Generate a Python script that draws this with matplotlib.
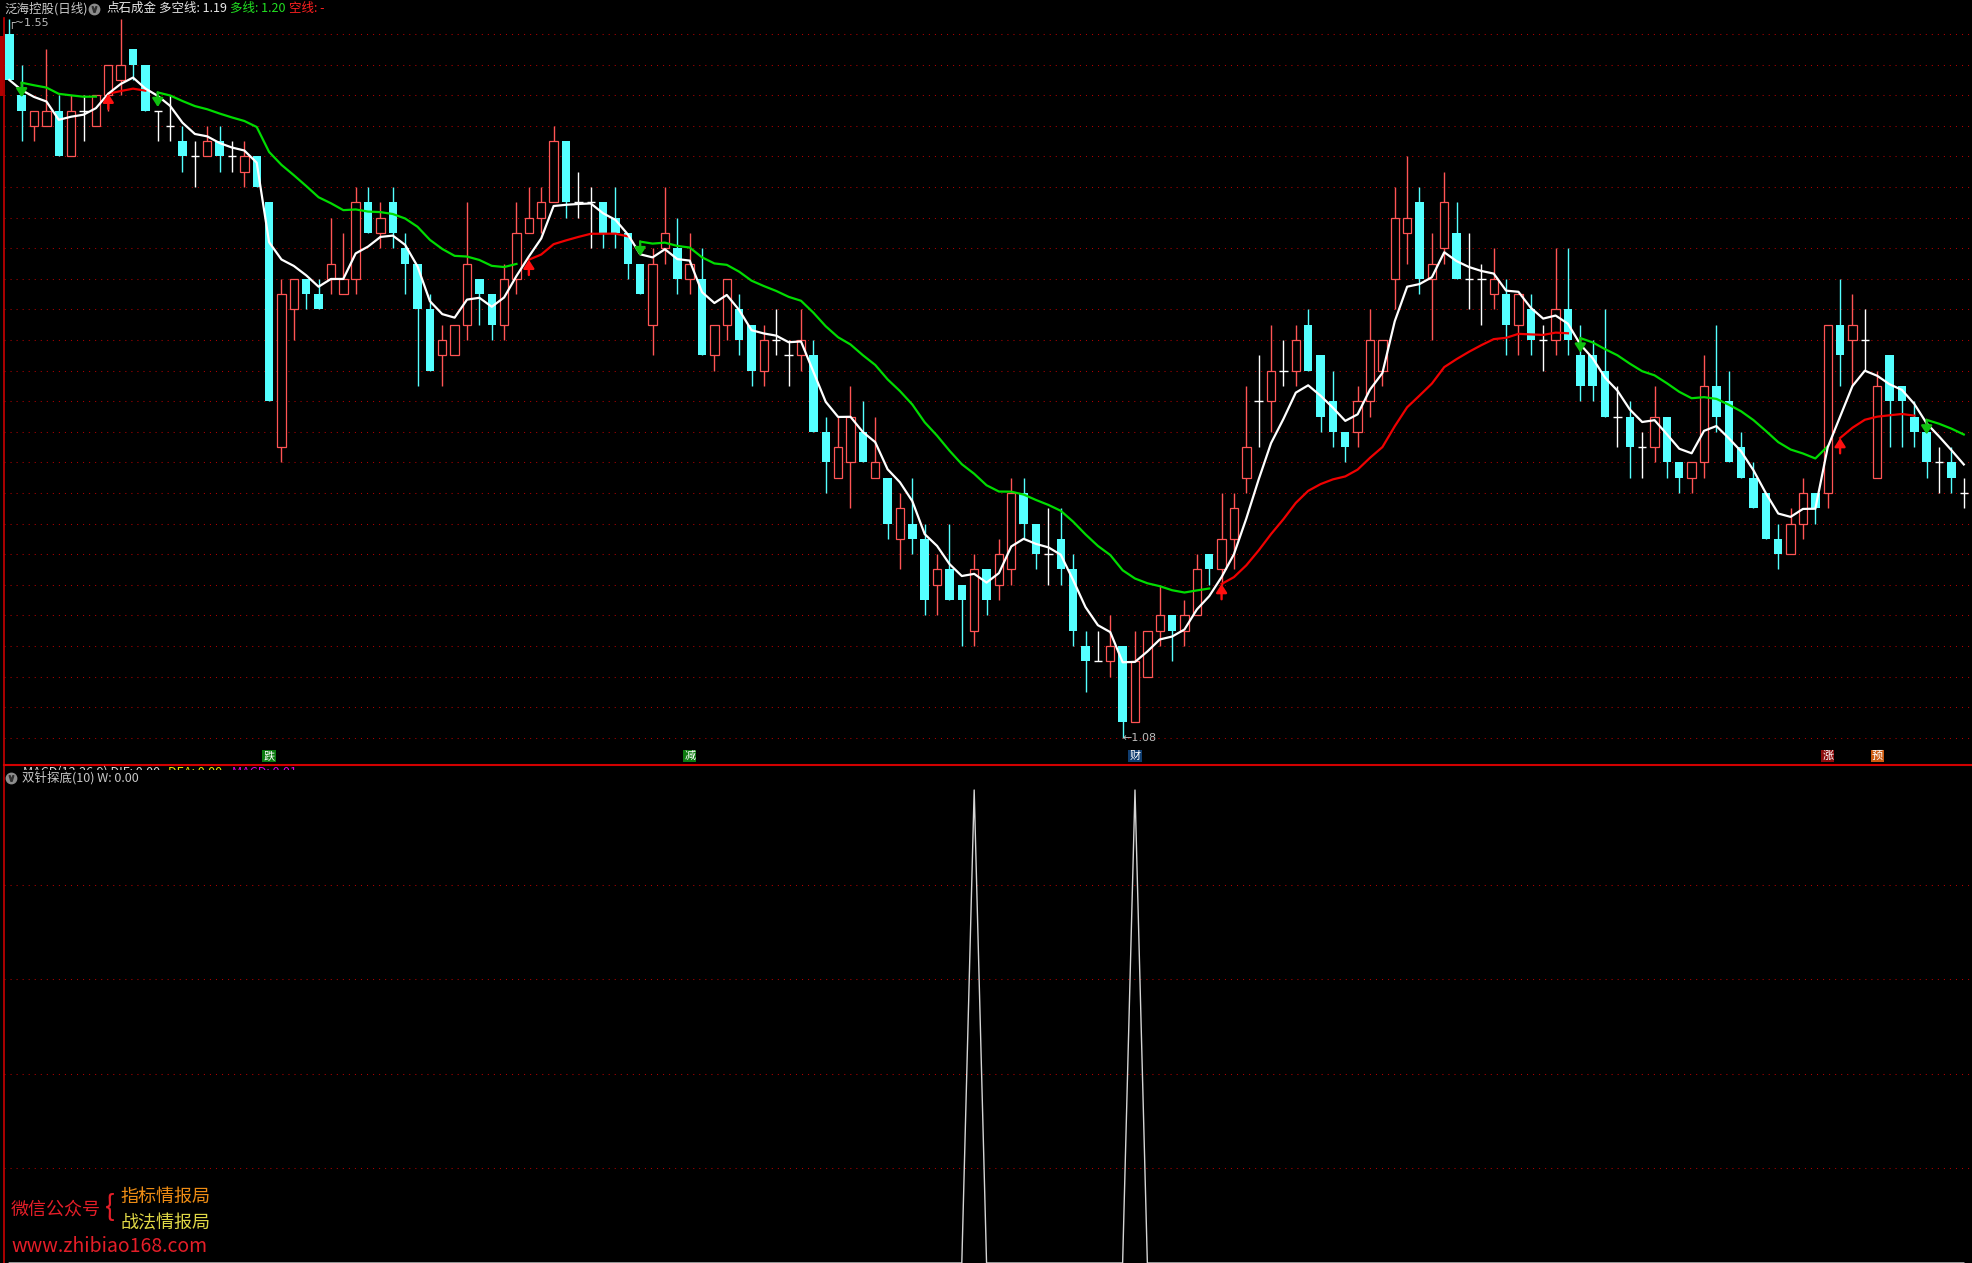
import numpy as np
import pandas as pd
import matplotlib
matplotlib.use('Agg')
import matplotlib.pyplot as plt
from matplotlib.lines import Line2D
from matplotlib.patches import Rectangle
from matplotlib.transforms import offset_copy, blended_transform_factory

plt.rcParams['font.family'] = ['Noto Sans CJK SC', 'DejaVu Sans']

# 日K数据, 单位: 分
open_c = [154, 150, 148, 148, 149, 146, 149, 148, 150, 151,
          153, 152, 149, 148, 147, 146, 146, 147, 146, 145,
          146, 143, 127, 136, 138, 137, 138, 137, 138, 143,
          141, 143, 140, 139, 136, 133, 133, 135, 138, 137,
          135, 138, 141, 142, 143, 147, 143, 143, 143, 142,
          141, 139, 135, 140, 140, 138, 138, 133, 135, 136,
          135, 132, 134, 133, 133, 133, 128, 125, 126, 128,
          125, 125, 121, 122, 121, 118, 119, 118, 115, 119,
          118, 119, 124, 122, 120, 121, 119, 114, 113, 113,
          114, 109, 112, 115, 116, 115, 116, 120, 119, 121,
          125, 130, 130, 132, 132, 135, 133, 130, 128, 128,
          130, 132, 138, 141, 143, 138, 140, 141, 138, 138,
          137, 137, 135, 136, 134, 134, 136, 133, 133, 132,
          129, 129, 127, 127, 129, 126, 125, 126, 131, 130,
          127, 125, 124, 121, 120, 122, 124, 124, 135, 134,
          134, 125, 133, 131, 129, 128, 126, 126, 124]
close_c = [151, 149, 149, 149, 146, 149, 149, 150, 152, 152,
           152, 149, 149, 148, 146, 146, 147, 146, 146, 146,
           144, 130, 137, 138, 137, 136, 139, 138, 143, 141,
           142, 141, 139, 136, 132, 134, 135, 139, 137, 135,
           138, 141, 142, 143, 147, 143, 143, 143, 141, 141,
           139, 137, 139, 141, 138, 139, 133, 135, 138, 134,
           132, 134, 134, 133, 134, 128, 126, 127, 129, 126,
           126, 122, 123, 121, 117, 119, 117, 117, 119, 117,
           120, 124, 122, 120, 120, 119, 115, 113, 113, 114,
           109, 113, 115, 116, 115, 116, 119, 119, 121, 123,
           127, 130, 132, 132, 134, 132, 129, 128, 127, 130,
           134, 134, 142, 142, 138, 139, 143, 138, 138, 138,
           138, 135, 137, 134, 134, 136, 134, 131, 131, 129,
           129, 127, 127, 129, 126, 125, 126, 131, 129, 126,
           125, 123, 121, 120, 122, 124, 123, 135, 133, 135,
           134, 131, 130, 130, 128, 126, 126, 125, 124]
high_c = [155, 152, 149, 153, 150, 150, 150, 150, 152, 155,
          153, 152, 149, 150, 148, 147, 148, 148, 147, 147,
          146, 143, 138, 138, 138, 138, 142, 141, 144, 144,
          143, 144, 141, 139, 137, 135, 135, 143, 138, 137,
          139, 143, 144, 144, 148, 147, 145, 144, 143, 144,
          141, 139, 140, 144, 142, 141, 140, 135, 138, 137,
          135, 135, 136, 134, 136, 134, 129, 129, 131, 130,
          129, 125, 124, 125, 122, 120, 122, 118, 120, 119,
          121, 125, 125, 122, 123, 123, 120, 115, 115, 116,
          114, 115, 115, 118, 116, 117, 120, 120, 124, 124,
          131, 133, 135, 134, 135, 136, 133, 132, 128, 131,
          136, 134, 144, 146, 144, 141, 145, 143, 141, 139,
          140, 138, 137, 137, 135, 140, 140, 135, 134, 136,
          131, 130, 128, 131, 129, 126, 126, 133, 135, 132,
          128, 126, 124, 122, 123, 125, 124, 135, 138, 137,
          136, 132, 133, 131, 130, 128, 127, 127, 125]
low_c = [151, 147, 147, 148, 146, 146, 147, 148, 149, 150,
         151, 149, 147, 147, 145, 144, 146, 145, 145, 144,
         144, 130, 126, 134, 136, 136, 137, 137, 137, 141,
         140, 140, 137, 131, 132, 131, 133, 134, 135, 134,
         134, 137, 141, 141, 143, 142, 142, 140, 140, 140,
         138, 137, 133, 139, 137, 137, 133, 132, 134, 133,
         131, 131, 133, 131, 132, 128, 124, 125, 123, 126,
         125, 121, 119, 120, 116, 116, 117, 114, 114, 116,
         117, 118, 121, 119, 118, 118, 114, 111, 113, 112,
         108, 109, 112, 114, 113, 114, 116, 118, 118, 119,
         124, 127, 128, 131, 131, 132, 128, 127, 126, 127,
         129, 131, 136, 139, 137, 134, 139, 138, 136, 135,
         136, 133, 133, 133, 132, 133, 133, 130, 130, 129,
         127, 125, 125, 126, 125, 124, 124, 125, 128, 126,
         125, 123, 121, 119, 120, 121, 122, 123, 131, 131,
         132, 125, 127, 127, 127, 125, 124, 124, 123]

# 双针探底 出现信号的K线
w_bars = [78, 91]

# 主图底部的文字标记
mark_bars = [21, 55, 91, 147, 151]
mark_text = ['跌', '减', '财', '涨', '预']
mark_bg = ['#0c7a10', '#0c7a10', '#0f3d70', '#8c0c0c', '#cc5a10']

# 标题栏
title_parts = ['泛海控股(日线)', '点石成金', '多空线: 1.19', '多线: 1.20', '空线: -']
sub_title = '双针探底(10) W: 0.00'
macd_parts = ['MACD(12,26,9) DIF: 0.00', 'DEA: 0.00', 'MACD: 0.01']

o = np.array(open_c) / 100
c = np.array(close_c) / 100
h = np.array(high_c) / 100
l = np.array(low_c) / 100
n = len(c)
x = np.arange(n)

# 多空线(白) 与 慢线(绿/红)
fast = pd.Series(c).ewm(span=5, adjust=False).mean().values
slow = pd.Series(c).ewm(span=21, adjust=False).mean().values
up_state = fast >= slow

w = np.zeros(n)
w[w_bars] = 1

FW, FH = 1972, 1263
CYAN = '#54ffff'
RED = '#ff5454'
GRID = '#b00000'


def fpos(px, py):
    return px / FW, 1 - py / FH


fig = plt.figure(figsize=(FW / 100, FH / 100), dpi=100, facecolor='black')

ax = fig.add_axes([4 / FW, 1 - 765 / FH, 1968 / FW, (765 - 18) / FH])
ax2 = fig.add_axes([4 / FW, 0, 1968 / FW, (1263 - 765) / FH])

xlim = (-0.43, -0.43 + 1968 / 12.37)
for a in (ax, ax2):
    a.set_facecolor('black')
    a.set_xlim(*xlim)
    a.tick_params(length=0, labelleft=False, labelbottom=False)
    a.set_xticks([])
    for s in ('top', 'right', 'bottom'):
        a.spines[s].set_visible(False)
    a.spines['left'].set_color('#c80000')
    a.spines['left'].set_linewidth(1.2)
    a.grid(axis='y', color=GRID, linestyle=(0, (1, 4.8)), linewidth=0.75)
    a.set_axisbelow(True)

ax2.spines['top'].set_visible(True)
ax2.spines['top'].set_color('#d20000')
ax2.spines['top'].set_linewidth(1.5)

# 主图
ax.set_ylim(1.0622, 1.5505)
ax.set_yticks(np.arange(1.08, 1.545, 0.02))

up = c > o
dn = c < o
dj = c == o
wick_col = np.where(up, RED, np.where(dn, CYAN, 'white'))
ax.vlines(x, l, h, colors=wick_col, linewidth=1, zorder=2)
ax.bar(x[up], (c - o)[up], bottom=o[up], width=0.68, facecolor='black',
       edgecolor=RED, linewidth=0.9, zorder=3)
ax.bar(x[dn], (o - c)[dn], bottom=c[dn], width=0.68, color=CYAN,
       linewidth=0, zorder=3)
ax.hlines(c[dj], x[dj] - 0.34, x[dj] + 0.34, colors='white', linewidth=1, zorder=3)

ax.plot(x, fast, color='white', linewidth=1.6, zorder=5)

# 慢线按多空状态分段
arrow_style = '-|>,head_length=0.5,head_width=0.32'
start = 0
for i in range(1, n + 1):
    if i == n or up_state[i] != up_state[start]:
        seg = slice(start, i)
        col = '#f00000' if up_state[start] else '#00dc00'
        ax.plot(x[seg], slow[seg], color=col, linewidth=1.6, zorder=4)
        if start > 0:
            if up_state[start]:
                ax.annotate('', xy=(start, slow[start]), xytext=(0, -11),
                            textcoords='offset points',
                            arrowprops=dict(arrowstyle=arrow_style,
                                            color='#ff1010', lw=1.7,
                                            shrinkA=0, shrinkB=0), zorder=6)
            else:
                tr = offset_copy(ax.transData, fig=fig, x=0, y=-10.5, units='points')
                ax.annotate('', xy=(start, slow[start]), xycoords=tr,
                            xytext=(start, slow[start]), textcoords='data',
                            arrowprops=dict(arrowstyle=arrow_style,
                                            color='#10c010', lw=1.7,
                                            shrinkA=0, shrinkB=0), zorder=6)
        start = i

# 最高/最低价标注
imax = int(np.argmax(h))
imin = int(np.argmin(l))
ax.annotate('┌~' + f'{h[imax]:.2f}', xy=(imax, h[imax]), xytext=(-1, -3.5),
            textcoords='offset points', ha='left', va='center',
            color='#bcbcbc', fontsize=8, family=['DejaVu Sans'], zorder=7,
            annotation_clip=False)
ax.annotate('←' + f'{l[imin]:.2f}', xy=(imin, l[imin]), xytext=(0, 0),
            textcoords='offset points', ha='left', va='center',
            color='#bcbcbc', fontsize=8, family=['DejaVu Sans'], zorder=7)

# 底部文字标记
btr = blended_transform_factory(ax.transData, ax.transAxes)
for k, t, bg in zip(mark_bars, mark_text, mark_bg):
    ax.text(k, 0.012, t, transform=btr, ha='center', va='center',
            color='white', fontsize=8,
            bbox=dict(boxstyle='square,pad=0.1', facecolor=bg, edgecolor='none'),
            zorder=7)

# 副图 双针探底
ax2.set_ylim(0, 498 / 473)
ax2.set_yticks([0.2, 0.4, 0.6, 0.8])
ax2.plot(x, w, color='#d4d4d4', linewidth=1, zorder=3)

# 左侧价格标记块
fig.patches.append(Rectangle(fpos(0, 96), 3 / FW, 60 / FH, transform=fig.transFigure,
                             facecolor='#b00000', edgecolor='none', zorder=5))

# 标题栏
hy = fpos(0, 8.5)[1]
fig.text(*fpos(4, 8.5), title_parts[0], color='#c8c8c8', fontsize=9, va='center')
fig.add_artist(Line2D([94 / FW], [hy], marker='o', markersize=7.5,
                      color='#8c8c8c', transform=fig.transFigure))
fig.add_artist(Line2D([94 / FW], [hy - 0.5 / FH], marker=r'$\vee$', markersize=4,
                      color='#303030', transform=fig.transFigure))
fig.text(*fpos(106, 8.5), title_parts[1], color='#e6e6e6', fontsize=9, va='center')
fig.text(*fpos(159, 8.5), title_parts[2], color='#e6e6e6', fontsize=9, va='center')
fig.text(*fpos(230, 8.5), title_parts[3], color='#22e022', fontsize=9, va='center')
fig.text(*fpos(289, 8.5), title_parts[4], color='#ff2020', fontsize=9, va='center')

# 副图标题 (MACD标题被遮挡一半)
fig.text(*fpos(23, 766), macd_parts[0], color='#d8d8d8', fontsize=9, va='top', zorder=5)
fig.text(*fpos(168, 766), macd_parts[1], color='#e8e800', fontsize=9, va='top', zorder=5)
fig.text(*fpos(232, 766), macd_parts[2], color='#e000e0', fontsize=9, va='top', zorder=5)
fig.patches.append(Rectangle(fpos(4.8, 787), 400 / FW, 17 / FH, transform=fig.transFigure,
                             facecolor='black', edgecolor='none', zorder=6))
sy = fpos(0, 777.5)[1]
fig.add_artist(Line2D([11 / FW], [sy], marker='o', markersize=7.5,
                      color='#8c8c8c', transform=fig.transFigure, zorder=7))
fig.add_artist(Line2D([11 / FW], [sy - 0.5 / FH], marker=r'$\vee$', markersize=4,
                      color='#303030', transform=fig.transFigure, zorder=7))
fig.text(*fpos(22, 777.5), sub_title, color='#c8c8c8', fontsize=9, va='center', zorder=7)

# 水印
fig.text(*fpos(11, 1210), '微信公众号', color='#e41e28', fontsize=13, va='center')
fig.text(*fpos(110, 1208), '{', color='#e41e28', fontsize=21, va='center', ha='center')
fig.text(*fpos(120, 1197), '指标情报局', color='#ee8c14', fontsize=13, va='center')
fig.text(*fpos(120, 1223), '战法情报局', color='#e0d846', fontsize=13, va='center')
fig.text(*fpos(11, 1246), 'www.zhibiao168.com', color='#e41e28', fontsize=14, va='center')

fig.savefig('out.png', dpi=100, facecolor='black')
